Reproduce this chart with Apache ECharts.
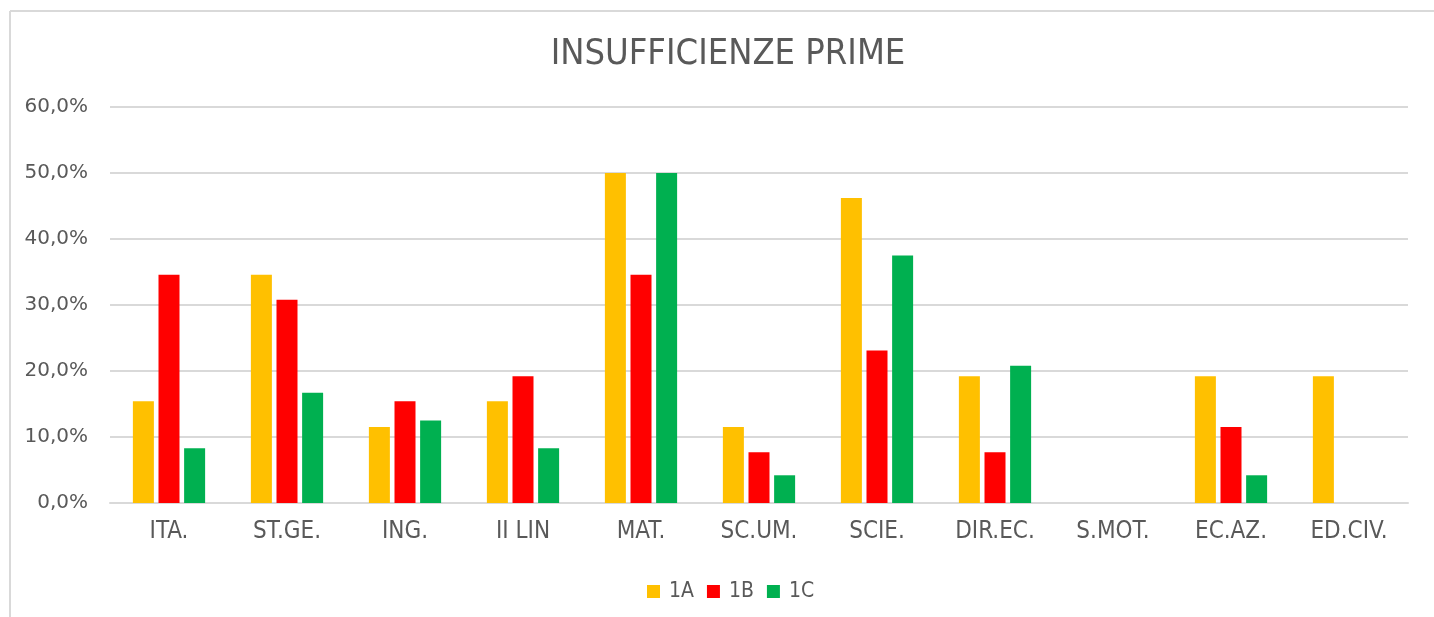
<!DOCTYPE html>
<html><head><meta charset="utf-8">
<script src="https://cdn.jsdelivr.net/npm/echarts@6/dist/echarts.min.js"></script>
<style>html,body{margin:0;padding:0;background:#fff;overflow:hidden}#c{width:1434px;height:617px}</style>
</head><body><div id="c"></div>
<script>
const categories = ['ITA.','ST.GE.','ING.','II LIN','MAT.','SC.UM.','SCIE.','DIR.EC.','S.MOT.','EC.AZ.','ED.CIV.'];
const s1A = [15.4, 34.6, 11.5, 15.4, 50.0, 11.5, 46.2, 19.2, 0, 19.2, 19.2];
const s1B = [34.6, 30.8, 15.4, 19.2, 34.6, 7.7, 23.1, 7.7, 0, 11.5, 0];
const s1C = [8.3, 16.7, 12.5, 8.3, 50.0, 4.2, 37.5, 20.8, 0, 4.2, 0];
const seriesNames = ['1A','1B','1C'];
const colors = ['#FFC000','#FF0000','#00B050'];
const FONT = 'DejaVu Sans Condensed';
const chart = echarts.init(document.getElementById('c'));
const mk = (name, data, color) => ({
  name, type:'bar', data, barWidth:21, barGap:'22%',
  itemStyle:{color}, emphasis:{disabled:true}
});
chart.setOption({
  animation:false,
  textStyle:{fontFamily:FONT},
  graphic:[
    {type:'line', shape:{x1:10, y1:11, x2:1434, y2:11}, style:{stroke:'#d9d9d9', lineWidth:2}, silent:true},
    {type:'line', shape:{x1:10, y1:11, x2:10, y2:617}, style:{stroke:'#d9d9d9', lineWidth:2}, silent:true}
  ],
  title:{text:'INSUFFICIENZE PRIME', left:723, top:32, textAlign:'center',
    textStyle:{fontFamily:FONT, fontSize:36, fontWeight:'normal', color:'#595959'}},
  legend:{data:seriesNames, left:642, top:576, itemWidth:13, itemHeight:13, itemGap:13,
    icon:'rect', textStyle:{fontFamily:FONT, fontSize:21, color:'#595959', padding:[0,0,0,4]}},
  grid:{left:110, right:26, top:107, bottom:114, containLabel:false},
  xAxis:{type:'category', data:categories,
    axisLine:{lineStyle:{color:'#d9d9d9', width:2}}, axisTick:{show:false},
    axisLabel:{fontFamily:FONT, fontSize:24, color:'#595959', margin:17}},
  yAxis:{type:'value', min:0, max:60, interval:10,
    axisLine:{show:false}, axisTick:{show:false},
    splitLine:{lineStyle:{color:'#d9d9d9', width:2}},
    axisLabel:{fontFamily:'DejaVu Sans', fontSize:20, color:'#595959', margin:22,
      formatter:v=>v.toFixed(1).replace('.',',')+'%'}},
  series:[mk('1A',s1A,colors[0]), mk('1B',s1B,colors[1]), mk('1C',s1C,colors[2])]
});
</script></body></html>
